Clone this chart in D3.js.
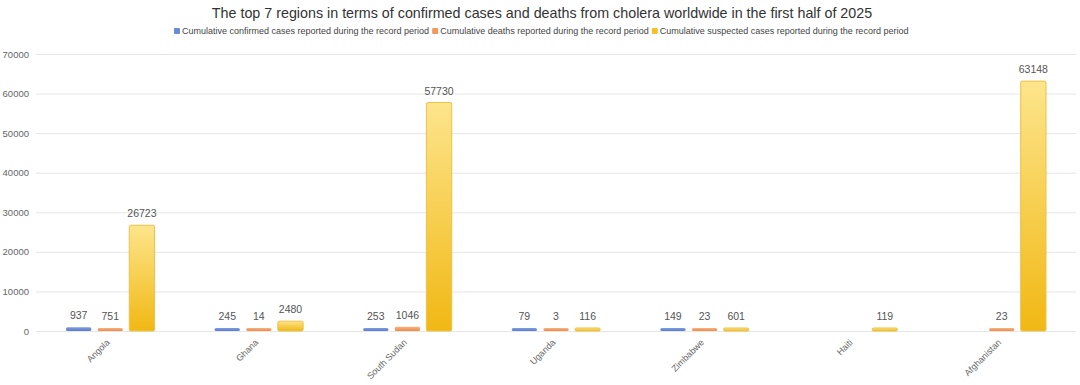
<!DOCTYPE html>
<html>
<head>
<meta charset="utf-8">
<script src="https://cdn.jsdelivr.net/npm/d3@7"></script>
<style>
  body { margin: 0; background: #fff; }
  svg text { font-family: "Liberation Sans", Arial, sans-serif; }
</style>
</head>
<body>
<div class="chart"></div>
<script>
var regions = ["Angola", "Ghana", "South Sudan", "Uganda", "Zimbabwe", "Haiti", "Afghanistan"];
var confirmed = [937, 245, 253, 79, 149, null, null];
var deaths = [751, 14, 1046, 3, 23, null, 23];
var suspected = [26723, 2480, 57730, 116, 601, 119, 63148];
var seriesNames = [
    "Cumulative confirmed cases reported during the record period",
    "Cumulative deaths reported during the record period",
    "Cumulative suspected cases reported during the record period"
];
var yTicks = [0, 10000, 20000, 30000, 40000, 50000, 60000, 70000];

(function(){
    var W = 1080, H = 385;
    var margin = {top: 54, right: 4, bottom: 54, left: 36};
    var width = W - margin.left - margin.right;
    var height = H - margin.top - margin.bottom;
    var colors = ["#6a8bd8", "#f29a5c", "#f5c02a"];
    var seriesValues = [confirmed, deaths, suspected];

    var svg = d3.select(".chart").append("svg")
        .attr("width", W)
        .attr("height", H);

    // gradients for bars
    var defs = svg.append("defs");
    var grads = [["#7e9de3", "#5b7ccb"], ["#f8b283", "#ee8a45"], ["#fde58c", "#f1b814"]];
    grads.forEach(function(g, i){
        var lg = defs.append("linearGradient").attr("id", "g" + i)
            .attr("x1", 0).attr("y1", 0).attr("x2", 0).attr("y2", 1);
        lg.append("stop").attr("offset", "0%").attr("stop-color", g[0]);
        lg.append("stop").attr("offset", "100%").attr("stop-color", g[1]);
    });

    // title
    svg.append("text")
        .attr("x", W / 2 + 2).attr("y", 18)
        .attr("text-anchor", "middle")
        .attr("font-size", 14.3)
        .attr("fill", "#333")
        .text("The top 7 regions in terms of confirmed cases and deaths from cholera worldwide in the first half of 2025");

    // legend
    var legend = svg.append("g").attr("transform", "translate(174,34)");
    var lx = 0;
    seriesNames.forEach(function(name, i){
        var item = legend.append("g").attr("transform", "translate(" + lx + ",0)");
        item.append("rect").attr("x", 0).attr("y", -6).attr("width", 6).attr("height", 6)
            .attr("rx", 1).attr("fill", colors[i]);
        var t = item.append("text").attr("x", 8).attr("y", 0)
            .attr("font-size", 9).attr("fill", "#444").text(name);
        lx += 8 + t.node().getComputedTextLength() + 3;
    });

    var g = svg.append("g")
        .attr("transform", "translate(" + margin.left + "," + margin.top + ")");

    var x = d3.scaleBand().domain(regions).range([0, width]);
    var x1 = d3.scaleBand().domain([0, 1, 2]).range([x.bandwidth() * 0.202, x.bandwidth() * 0.798]).paddingInner(0.2);
    var y = d3.scaleLinear().domain([0, 70000]).range([height, 0]);

    // gridlines + y labels
    var yAxis = g.append("g").attr("class", "axis y-axis")
        .call(d3.axisLeft(y).tickValues(yTicks).tickSize(-width).tickPadding(7).tickFormat(d3.format("d")));
    yAxis.select(".domain").remove();
    yAxis.selectAll(".tick line").attr("stroke", "#e6e6e6");
    yAxis.selectAll(".tick text").attr("fill", "#666").attr("font-size", 9.5)
        .attr("font-family", "Liberation Sans, Arial, sans-serif");

    // bars
    regions.forEach(function(r, ri){
        seriesValues.forEach(function(vals, si){
            var v = vals[ri];
            if (v === null) return;
            var bx = x(r) + x1(si);
            var h = Math.max(height - y(v), 3);
            g.append("rect")
                .attr("x", bx).attr("y", height - h)
                .attr("width", x1.bandwidth()).attr("height", h)
                .attr("rx", 1.5)
                .attr("fill", "url(#g" + si + ")")
                .attr("stroke", si === 2 ? "#ecc146" : "none")
                .attr("stroke-width", 1);
            g.append("text")
                .attr("x", bx + x1.bandwidth() / 2)
                .attr("y", height - h - 8)
                .attr("text-anchor", "middle")
                .attr("font-size", 10.5)
                .attr("fill", "#555")
                .text(v);
        });
    });

    // x labels
    var xAxis = g.append("g").attr("class", "axis x-axis")
        .attr("transform", "translate(0," + height + ")")
        .call(d3.axisBottom(x).tickSize(0).tickPadding(0));
    xAxis.select(".domain").remove();
    xAxis.selectAll(".tick text")
        .attr("font-size", 9).attr("fill", "#666")
        .attr("font-family", "Liberation Sans, Arial, sans-serif")
        .attr("text-anchor", "end")
        .attr("dy", 0)
        .attr("transform", "translate(0,12) rotate(-45)");
}());
</script>
</body>
</html>
